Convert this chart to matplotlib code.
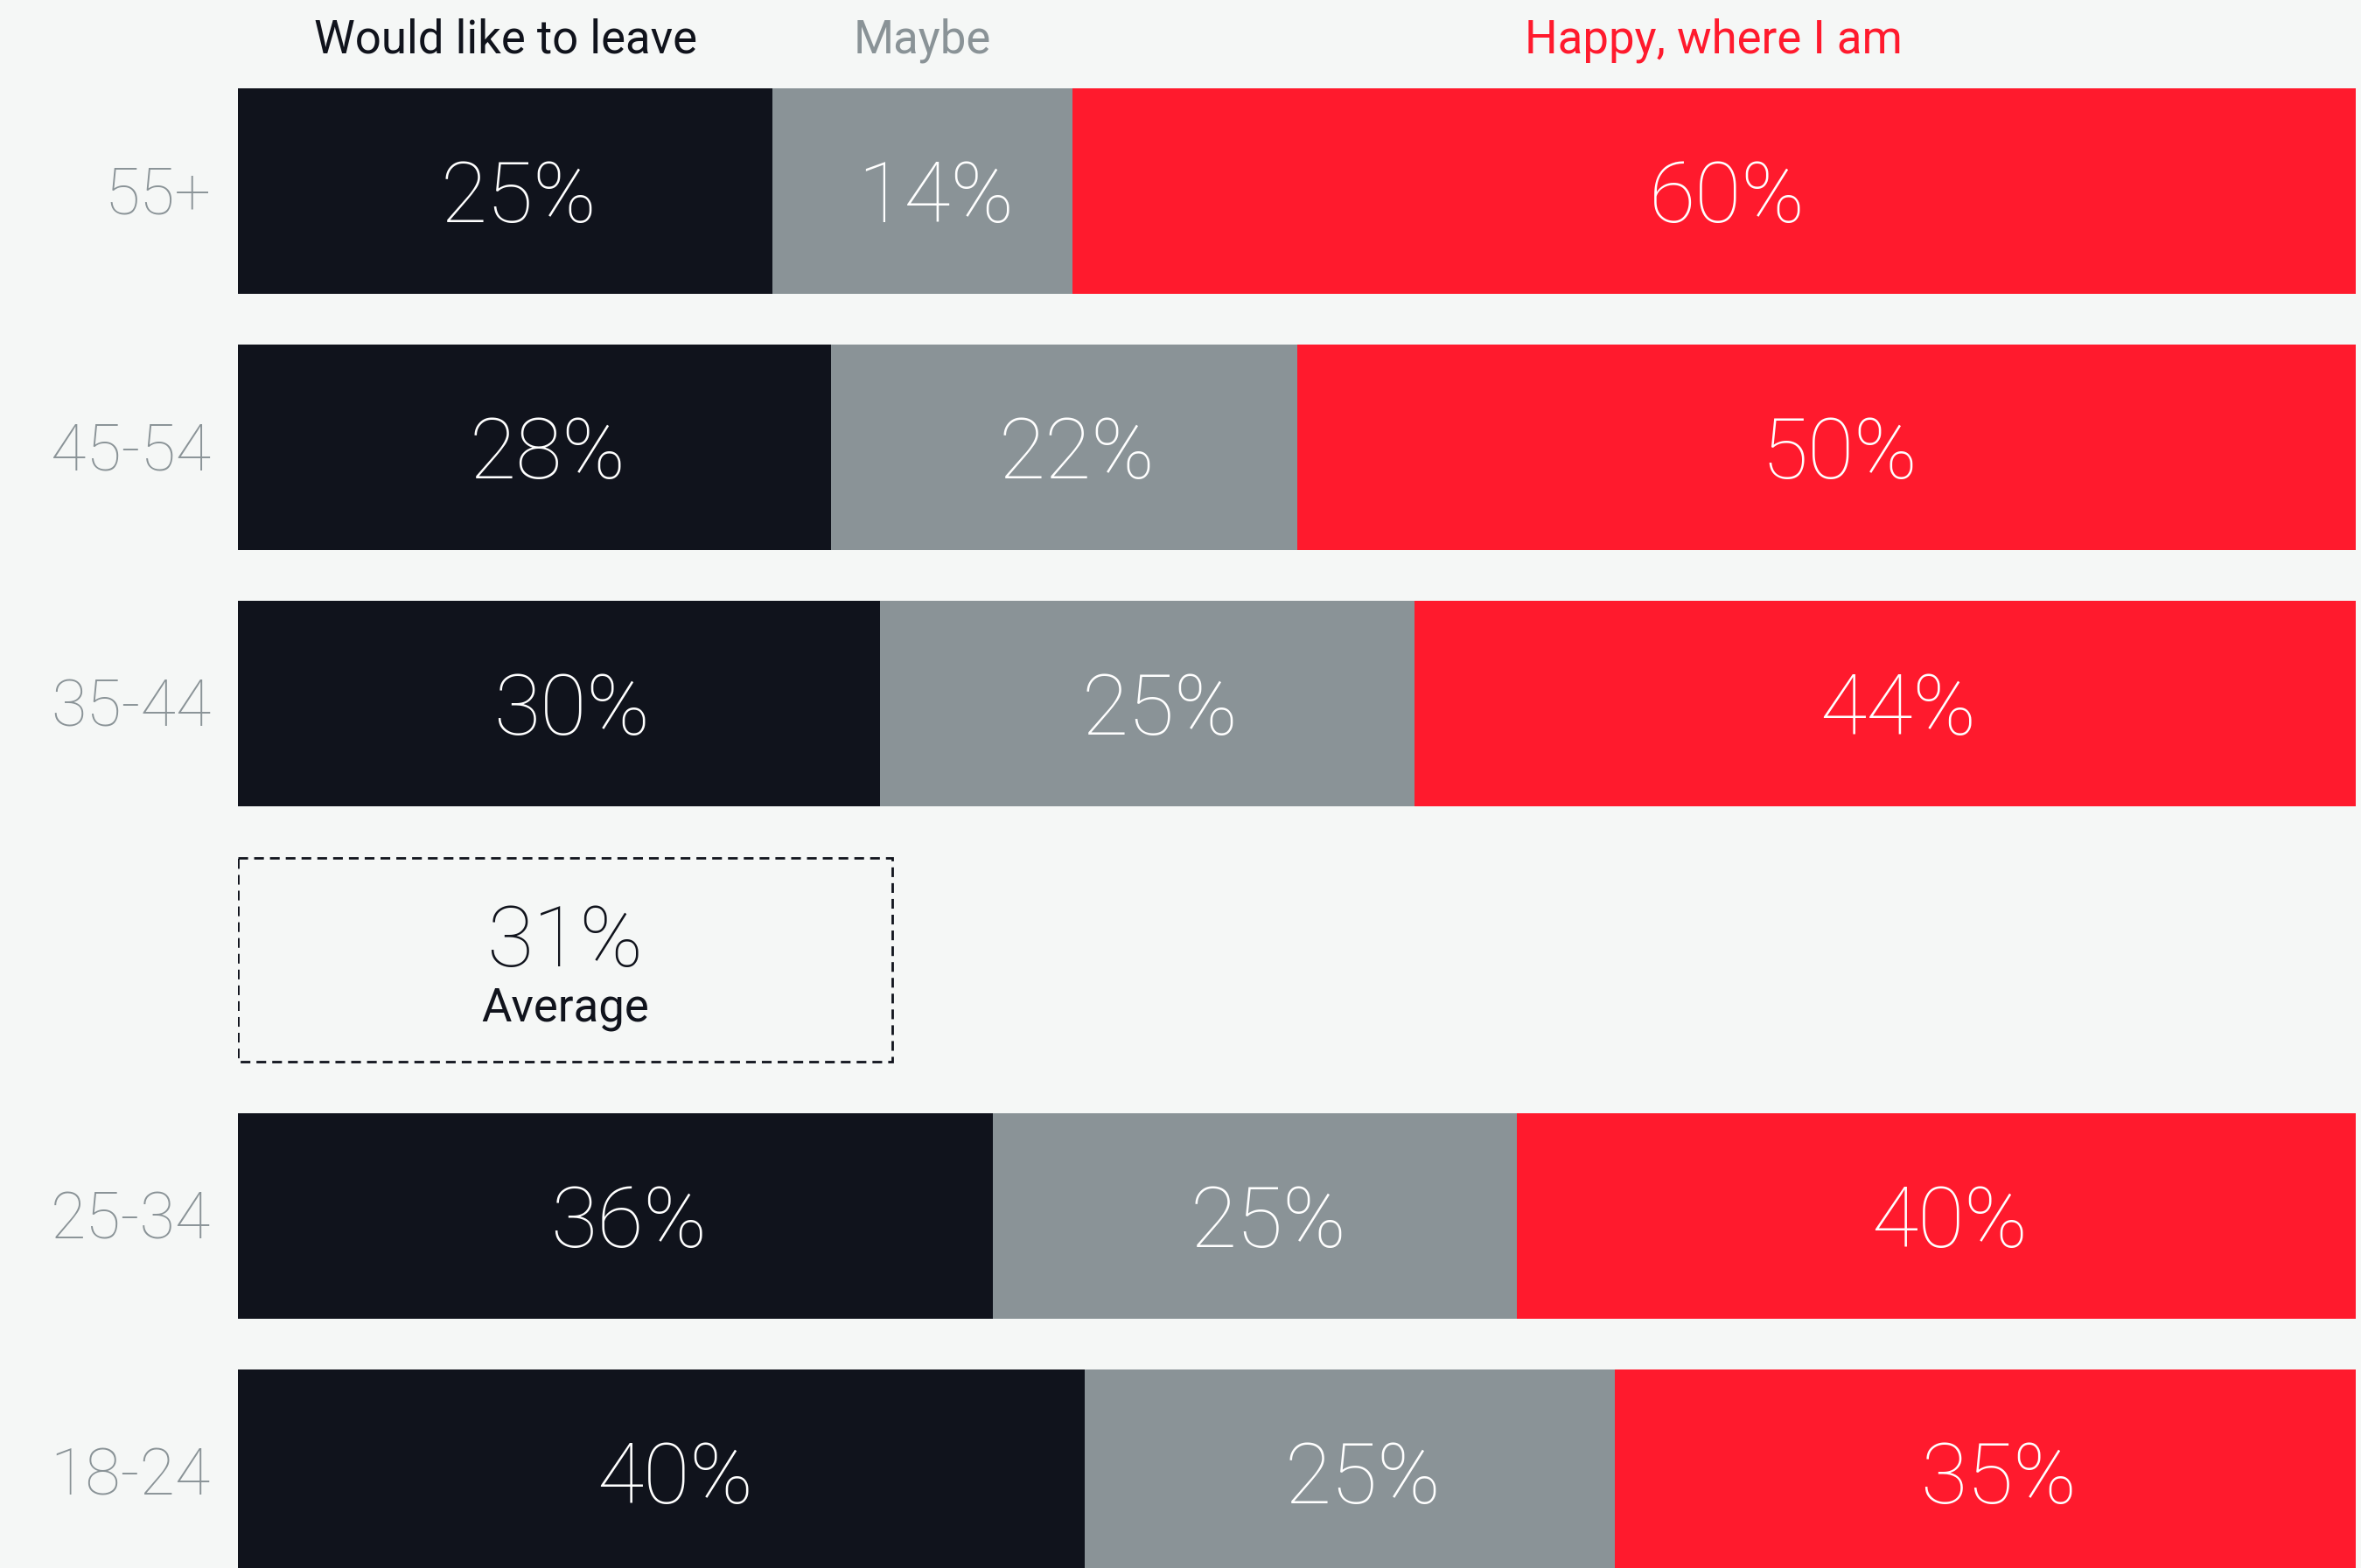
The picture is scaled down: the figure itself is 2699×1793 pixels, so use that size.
import numpy as np
import matplotlib.pyplot as plt
from matplotlib.patches import Rectangle

groups = ["55+", "45-54", "35-44", "25-34", "18-24"]
leave = [25, 28, 30, 36, 40]
maybe = [14, 22, 25, 25, 25]
happy = [60, 50, 44, 40, 35]
series_names = ["Would like to leave", "Maybe", "Happy, where I am"]
average = 31

colors = ["#10131c", "#8a9397", "#ff1a2d"]
bg = "#f5f7f6"
plt.rcParams["font.family"] = ["Roboto", "DejaVu Sans"]
plt.rcParams["font.weight"] = "light"

W, H = 2699, 1793
fig = plt.figure(figsize=(W / 100, H / 100), dpi=100, facecolor=bg)
ax = fig.add_axes([272 / W, 0, (2693 - 272) / W, 1])
ax.set_facecolor(bg)

# slot 3 is left free for the average box
slots = [0, 1, 2, 4, 5]
pitch = 293.0
ax.set_xlim(0, 1)
ax.set_ylim((H - 218.5) / pitch, -218.5 / pitch)
bar_h = 235 / pitch
nudge = 15 / 2421  # labels sit a touch right of centre in the original

data = np.array([leave, maybe, happy], dtype=float)
frac = data / data.sum(axis=0)
lefts = np.vstack([np.zeros(len(groups)), np.cumsum(frac, axis=0)[:-1]])

for k in range(3):
    ax.barh(slots, frac[k], left=lefts[k], height=bar_h, color=colors[k], linewidth=0)
    for i, s in enumerate(slots):
        ax.text(lefts[k][i] + frac[k][i] / 2 + nudge, s + 35 / pitch, f"{int(data[k][i])}%",
                ha="center", va="baseline", color="white", fontsize=70)
    # series names above the first row
    ax.text(lefts[k][0] + frac[k][0] / 2, -158.5 / pitch, series_names[k],
            ha="center", va="baseline", color=colors[k], fontsize=38,
            fontweight="normal", clip_on=False)

for i, s in enumerate(slots):
    ax.text(-31 / 2421, s + 26 / pitch, groups[i], ha="right", va="baseline",
            color=colors[1], fontsize=53, clip_on=False)

# average box
ax.add_patch(Rectangle((0, 3 - 0.396), 0.309, 0.792, facecolor="none",
                       edgecolor=colors[0], linewidth=2, linestyle=(0, (4, 2.5))))
ax.text(0.309 / 2, 3 + 7 / pitch, f"{average}%", ha="center", va="baseline",
        color=colors[0], fontsize=70)
ax.text(0.309 / 2, 3 + 70 / pitch, "Average", ha="center", va="baseline",
        color=colors[0], fontsize=38, fontweight="normal")

ax.axis("off")
fig.savefig("out.png", dpi=100, facecolor=bg)
